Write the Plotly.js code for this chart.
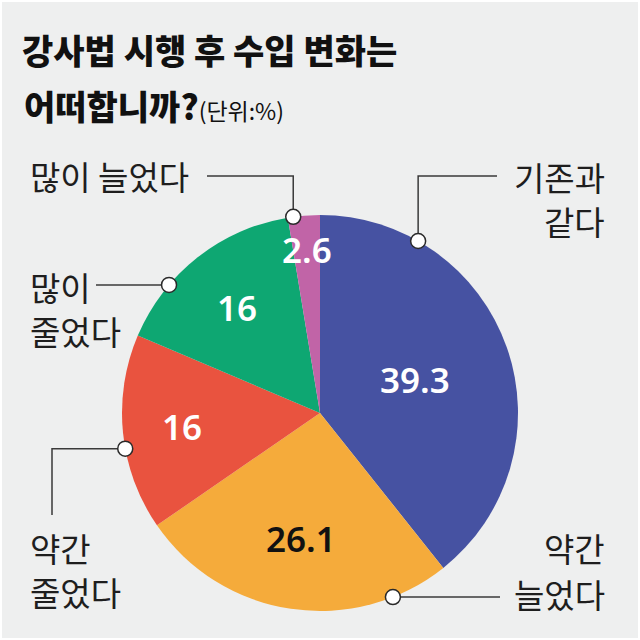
<!DOCTYPE html>
<html>
<head>
<meta charset="utf-8">
<script src="https://cdn.plot.ly/plotly-3.0.1.min.js"></script>
<style>html,body{margin:0;padding:0;background:#eeefef;}#chart{width:640px;height:640px;}</style>
</head>
<body>
<div id="chart"></div>
<script>
// ---- data ----
const categories = ['기존과 같다', '약간 늘었다', '약간 줄었다', '많이 줄었다', '많이 늘었다'];
const values = [39.3, 26.1, 16, 16, 2.6];
const valueLabels = ['39.3', '26.1', '16', '16', '2.6'];
const labelLines = [['기존과', '같다'], ['약간', '늘었다'], ['약간', '줄었다'], ['많이', '줄었다'], ['많이 늘었다']];
const titleLine1 = '강사법 시행 후 수입 변화는';
const titleLine2 = '어떠합니까?';
const unitText = '(단위:%)';

// ---- styles / layout ----
const colors = ['#4652a2', '#f5ab3b', '#e9533f', '#0ea772', '#c164a7'];
const textColors = ['#ffffff', '#111111', '#ffffff', '#ffffff', '#ffffff'];
const W = 640, H = 640;
const cx = 320, cy = 413, R = 198;
const valueRadiusFrac = [0.51, 0.64, 0.70, 0.68, 0.83];
const anchorFrac = [0.21, 0.18, 0.42, 0.30, 0.17];
// leader routes after anchor: sequence of ['v', y] or ['h', x] in pixels
const routes = [
  [['v', 176], ['h', 497]],
  [['h', 500]],
  [['h', 52], ['v', 515]],
  [['h', 96]],
  [['v', 176], ['h', 207]]
];
// label line centres (pixels)
const labelPos = [
  {x: 607, ys: [177, 221], xanchor: 'right'},
  {x: 607, ys: [548, 594], xanchor: 'right'},
  {x: 28, ys: [548, 592], xanchor: 'left'},
  {x: 28, ys: [287, 331], xanchor: 'left'},
  {x: 28, ys: [176], xanchor: 'left'}
];

const px = x => x / W;
const py = y => 1 - y / H;

const total = values.reduce((a, b) => a + b, 0);
let cum = 0;
const starts = [], spans = [];
values.forEach(v => { starts.push(cum / total * 360); spans.push(v / total * 360); cum += v; });
const polar = (deg, r) => {
  const t = deg * Math.PI / 180;
  return [cx + r * Math.sin(t), cy - r * Math.cos(t)];
};

const annotations = [];
const shapes = [];

values.forEach((v, i) => {
  const mid = starts[i] + spans[i] / 2;
  const [tx, ty] = polar(mid, R * valueRadiusFrac[i]);
  annotations.push({
    text: valueLabels[i], x: px(tx), y: py(ty), xref: 'paper', yref: 'paper',
    xanchor: 'center', yanchor: 'middle', showarrow: false,
    font: {family: 'Noto Sans', size: 35, weight: 600, color: textColors[i]}
  });
  const [ax, ay] = polar(starts[i] + spans[i] * anchorFrac[i], R);
  let x = ax, y = ay;
  let path = `M ${px(x)} ${py(y)}`;
  routes[i].forEach(([dir, val]) => {
    if (dir === 'v') y = val; else x = val;
    path += ` L ${px(x)} ${py(y)}`;
  });
  shapes.push({type: 'path', xref: 'paper', yref: 'paper', path: path,
    line: {color: '#3a3a3a', width: 1.5}, layer: 'above'});
  shapes.push({type: 'circle', xref: 'paper', yref: 'paper', xsizemode: 'pixel', ysizemode: 'pixel',
    xanchor: px(ax), yanchor: py(ay), x0: -7.5, x1: 7.5, y0: -7.5, y1: 7.5,
    fillcolor: '#ffffff', line: {color: '#2a2a2a', width: 1.5}, layer: 'above'});
  const lp = labelPos[i];
  labelLines[i].forEach((line, k) => {
    annotations.push({
      text: line, x: px(lp.x), y: py(lp.ys[k]), xref: 'paper', yref: 'paper',
      xanchor: lp.xanchor, yanchor: 'middle', showarrow: false,
      font: {family: 'Noto Sans CJK KR', size: 33, weight: 400, color: '#1e1e1e'}
    });
  });
});

annotations.push({
  text: titleLine2 + '<span style="font-size:23px;font-weight:400">' + unitText + '</span>',
  x: px(22), y: py(105), xref: 'paper', yref: 'paper', xanchor: 'left', yanchor: 'middle',
  showarrow: false, font: {family: 'Noto Sans CJK KR', size: 34, weight: 900, color: '#111111'}
});

shapes.push({type: 'rect', xref: 'paper', yref: 'paper', x0: 0, x1: 1, y0: 0, y1: 1,
  line: {color: '#ffffff', width: 4}, fillcolor: 'rgba(0,0,0,0)', layer: 'above'});

const trace = {
  type: 'pie',
  labels: categories,
  values: values,
  sort: false,
  direction: 'clockwise',
  rotation: 0,
  textinfo: 'none',
  hoverinfo: 'label+value',
  marker: {colors: colors, line: {width: 0}},
  domain: {x: [px(cx - R), px(cx + R)], y: [py(cy + R), py(cy - R)]},
  showlegend: false
};

const layout = {
  width: W, height: H,
  margin: {l: 0, r: 0, t: 0, b: 0},
  paper_bgcolor: '#eeefef',
  showlegend: false,
  title: {
    text: titleLine1, xref: 'container', yref: 'container',
    x: px(22), xanchor: 'left', y: py(52), yanchor: 'middle',
    font: {family: 'Noto Sans CJK KR', size: 34, weight: 900, color: '#111111'}
  },
  annotations: annotations,
  shapes: shapes
};

Plotly.newPlot('chart', [trace], layout, {displayModeBar: false, staticPlot: true});
</script>
</body>
</html>
